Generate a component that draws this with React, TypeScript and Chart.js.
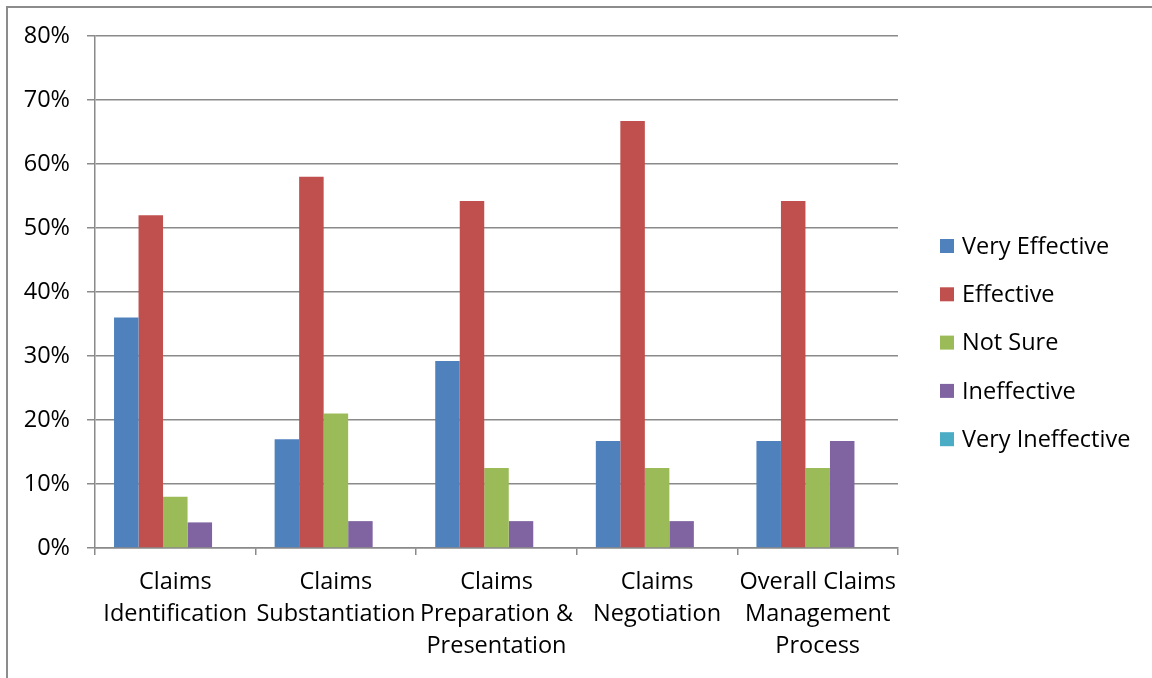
import React, { useEffect, useRef } from "react";
import { Chart, registerables } from "chart.js";

Chart.register(...registerables);

// Survey categories (multi-line axis labels)
const categories: string[][] = [
  ["Claims", "Identification"],
  ["Claims", "Substantiation"],
  ["Claims", "Preparation &", "Presentation"],
  ["Claims", "Negotiation"],
  ["Overall Claims", "Management", "Process"],
];

const seriesNames = ["Very Effective", "Effective", "Not Sure", "Ineffective", "Very Ineffective"];
const seriesColors = ["#4F81BD", "#C0504D", "#9BBB59", "#8064A2", "#4BACC6"];

// Share of respondents, in percent
const veryEffective = [36, 17, 29.2, 16.7, 16.7];
const effective = [52, 58, 54.2, 66.7, 54.2];
const notSure = [8, 21, 12.5, 12.5, 12.5];
const ineffective = [4, 4.2, 4.2, 4.2, 16.7];
const veryIneffective = [0, 0, 0, 0, 0];

const yMin = 0;
const yMax = 80;
const yStep = 10;

const FONT = "'Open Sans', 'Noto Sans', sans-serif";
const FONT_SIZE = 23.5;
const GRID = "#8a8a8a";

// Legend drawn as a column to the right of the plot area
const sideLegend = {
  id: "sideLegend",
  afterDraw(chart: any) {
    const { ctx, chartArea } = chart;
    const x0 = chartArea.right + 42;
    const y0 = 246;
    const gap = 48.3;
    ctx.save();
    ctx.font = `${FONT_SIZE}px ${FONT}`;
    ctx.textBaseline = "middle";
    ctx.textAlign = "left";
    chart.data.datasets.forEach((ds: any, i: number) => {
      const cy = y0 + i * gap;
      ctx.fillStyle = ds.backgroundColor;
      ctx.fillRect(x0, cy - 7, 14, 14);
      ctx.fillStyle = "#000";
      ctx.fillText(ds.label, x0 + 22, cy + 1);
    });
    ctx.restore();
  },
};

export default function App() {
  const canvasRef = useRef<HTMLCanvasElement | null>(null);

  useEffect(() => {
    if (!canvasRef.current) return;
    const values = [veryEffective, effective, notSure, ineffective, veryIneffective];
    const chart = new Chart(canvasRef.current, {
      type: "bar",
      data: {
        labels: categories,
        datasets: seriesNames.map((name, i) => ({
          label: name,
          data: values[i],
          backgroundColor: seriesColors[i],
          borderWidth: 0,
          categoryPercentage: 0.763,
          barPercentage: 1,
        })),
      },
      options: {
        animation: false,
        responsive: false,
        maintainAspectRatio: false,
        layout: { padding: { top: 36, right: 254, bottom: 0, left: 0 } },
        plugins: {
          legend: { display: false },
          tooltip: { enabled: false },
        },
        scales: {
          x: {
            grid: {
              offset: true,
              drawOnChartArea: false,
              tickLength: 7,
              color: GRID,
              lineWidth: 1.5,
            },
            border: { color: GRID, width: 1.5 },
            ticks: {
              color: "#000",
              font: { family: FONT, size: FONT_SIZE, lineHeight: 32 / FONT_SIZE },
              padding: 11,
              maxRotation: 0,
              autoSkip: false,
            },
            afterFit(scale: any) {
              scale.height = 130;
            },
          },
          y: {
            min: yMin,
            max: yMax,
            grid: { color: GRID, tickLength: 8, lineWidth: 1.5 },
            border: { color: GRID, width: 1.5 },
            ticks: {
              stepSize: yStep,
              color: "#000",
              font: { family: FONT, size: FONT_SIZE },
              padding: 17,
              callback: (v: any) => `${v}%`,
            },
            afterFit(scale: any) {
              scale.width = 95;
            },
          },
        },
      },
      plugins: [sideLegend],
    });
    return () => chart.destroy();
  }, []);

  return (
    <div
      style={{
        position: "absolute",
        left: 0,
        top: 0,
        width: 1152,
        height: 678,
        background: "#fff",
        overflow: "hidden",
      }}
    >
      <div
        style={{
          position: "absolute",
          left: 6,
          top: 6,
          right: -10,
          bottom: -10,
          borderLeft: "2px solid #8c8c8c",
          borderTop: "2px solid #8c8c8c",
        }}
      />
      <canvas
        ref={canvasRef}
        width={1152}
        height={678}
        style={{ position: "absolute", left: 0, top: 0, width: 1152, height: 678 }}
      />
    </div>
  );
}
